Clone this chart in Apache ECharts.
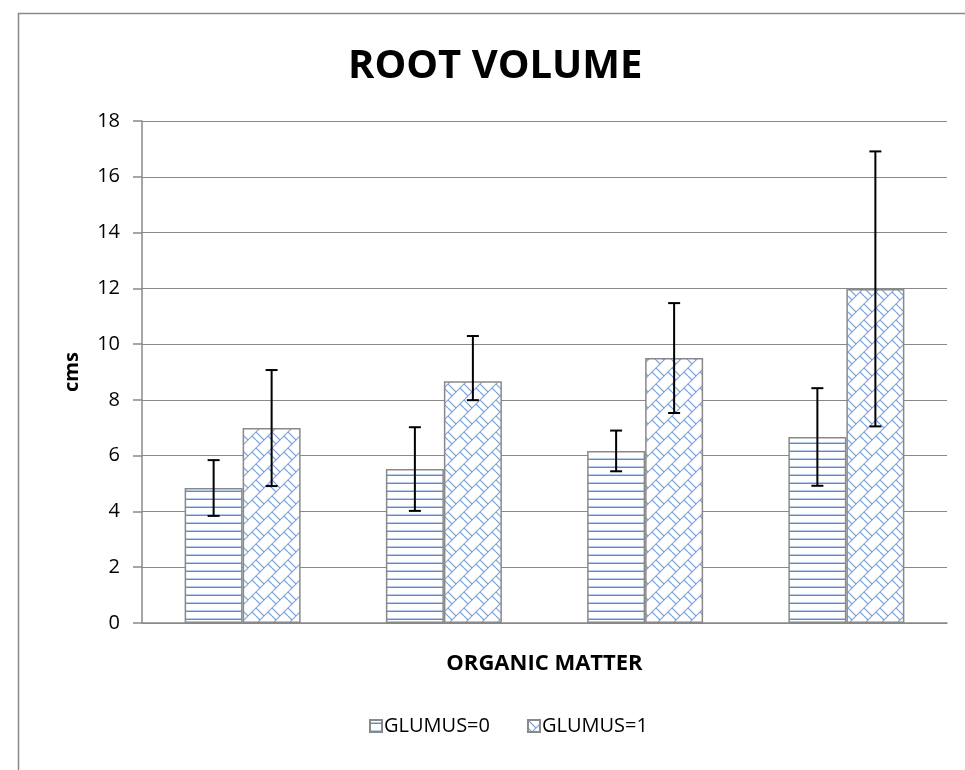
<!DOCTYPE html>
<html>
<head>
<meta charset="utf-8">
<script src="https://cdn.jsdelivr.net/npm/echarts@6/dist/echarts.min.js"></script>
<style>
  html, body { margin: 0; padding: 0; background: #fff; }
  #chart { width: 965px; height: 770px; }
</style>
</head>
<body>
<div id="chart"></div>
<script>
// organic matter levels (no labels shown on the axis)
const categories = ['1', '2', '3', '4']
const glumus0 = [4.84, 5.52, 6.17, 6.67]
const glumus1 = [6.99, 8.67, 9.50, 11.98]
// error bar extents above / below each bar
const err0Up = [1.0, 1.5, 0.73, 1.75]
const err0Down = [1.0, 1.5, 0.73, 1.75]
const err1Up = [2.08, 1.62, 1.97, 4.93]
const err1Down = [2.08, 0.68, 1.97, 4.93]

const BAR_W = 58
const GRAY = '#898989'
const BLUE = '#5b8bd0'

// horizontal stripes, like Excel's "narrow horizontal" fill
function stripeTile() {
  const c = document.createElement('canvas')
  c.width = 8; c.height = 8
  const g = c.getContext('2d')
  g.fillStyle = '#fff'
  g.fillRect(0, 0, 8, 8)
  g.fillStyle = '#b4cbea'
  g.fillRect(0, 2, 8, 1)
  g.fillStyle = BLUE
  g.fillRect(0, 3, 8, 1)
  return c
}

// diagonal brick fill
function brickTile() {
  const c = document.createElement('canvas')
  c.width = 16; c.height = 16
  const g = c.getContext('2d')
  g.fillStyle = '#fff'
  g.fillRect(0, 0, 16, 16)
  g.strokeStyle = '#7aa2dc'
  g.lineWidth = 1.1
  const seg = (a, b, c2, d) => { g.beginPath(); g.moveTo(a, b); g.lineTo(c2, d); g.stroke() }
  seg(-2, 18, 18, -2)
  seg(-2, 2, 2, -2)
  seg(14, 18, 18, 14)
  seg(0, 0, 8, 8)
  seg(12, 4, 16, 8)
  seg(0, 8, 4, 12)
  return c
}

const fill0 = { image: stripeTile(), repeat: 'repeat' }
const fill1 = { image: brickTile(), repeat: 'repeat' }

function errorSeries(values, up, down, side) {
  return {
    type: 'custom',
    silent: true,
    z: 10,
    renderItem(params, api) {
      const i = api.value(0)
      const v = api.value(1)
      const hi = api.coord([i, v + api.value(2)])
      const lo = api.coord([i, v - api.value(3)])
      const x = hi[0] + side * BAR_W / 2
      const cap = 6
      const style = { stroke: '#000', lineWidth: 2 }
      return {
        type: 'group',
        children: [
          { type: 'line', shape: { x1: x, y1: hi[1], x2: x, y2: lo[1] }, style },
          { type: 'line', shape: { x1: x - cap, y1: hi[1], x2: x + cap, y2: hi[1] }, style },
          { type: 'line', shape: { x1: x - cap, y1: lo[1], x2: x + cap, y2: lo[1] }, style },
        ],
      }
    },
    data: values.map((v, i) => [i, v, up[i], down[i]]),
  }
}

const chart = echarts.init(document.getElementById('chart'))
chart.setOption({
  animation: false,
  backgroundColor: '#fff',
  graphic: [{
    type: 'rect',
    left: 16, top: 11,
    shape: { width: 1000, height: 1000 },
    style: { fill: 'none', stroke: GRAY, lineWidth: 1.5 },
    silent: true,
  }],
  title: {
    text: 'ROOT VOLUME',
    left: 343,
    top: 42,
    textStyle: {
      fontFamily: 'Open Sans',
      fontWeight: 'bold',
      fontSize: 40,
      color: '#000',
    },
  },
  legend: {
    left: 364,
    top: 711,
    icon: 'rect',
    itemWidth: 12,
    itemHeight: 12,
    itemGap: 37,
    textStyle: { fontFamily: 'Open Sans', fontSize: 20, color: '#000', padding: [0, 0, 0, -3] },
    data: ['GLUMUS=0', 'GLUMUS=1'],
  },
  grid: { left: 142, right: 18, top: 121, bottom: 147 },
  xAxis: {
    type: 'category',
    data: categories,
    axisLine: { lineStyle: { color: GRAY, width: 1.5 } },
    axisTick: { show: false },
    axisLabel: { show: false },
    name: 'ORGANIC MATTER',
    nameLocation: 'middle',
    nameGap: 30,
    nameTextStyle: { fontFamily: 'Open Sans', fontWeight: 'bold', fontSize: 22, color: '#000' },
  },
  yAxis: {
    type: 'value',
    min: 0,
    max: 18,
    interval: 2,
    axisLine: { show: true, lineStyle: { color: GRAY, width: 1.5 } },
    axisTick: { show: true, length: 9, lineStyle: { color: GRAY, width: 1.5 } },
    axisLabel: { fontFamily: 'Open Sans', fontSize: 20, color: '#000', margin: 22 },
    splitLine: { lineStyle: { color: GRAY, width: 1.2 } },
    name: 'cms',
    nameLocation: 'middle',
    nameRotate: 90,
    nameGap: 60,
    nameTextStyle: { fontFamily: 'Open Sans', fontWeight: 'bold', fontSize: 20, color: '#000' },
  },
  series: [
    {
      name: 'GLUMUS=0',
      type: 'bar',
      barWidth: BAR_W,
      barGap: '0%',
      itemStyle: { color: fill0, borderColor: GRAY, borderWidth: 1.5 },
      data: glumus0,
    },
    {
      name: 'GLUMUS=1',
      type: 'bar',
      barWidth: BAR_W,
      barGap: '0%',
      itemStyle: { color: fill1, borderColor: GRAY, borderWidth: 1.5 },
      data: glumus1,
    },
    errorSeries(glumus0, err0Up, err0Down, -1),
    errorSeries(glumus1, err1Up, err1Down, 1),
  ],
})
</script>
</body>
</html>
